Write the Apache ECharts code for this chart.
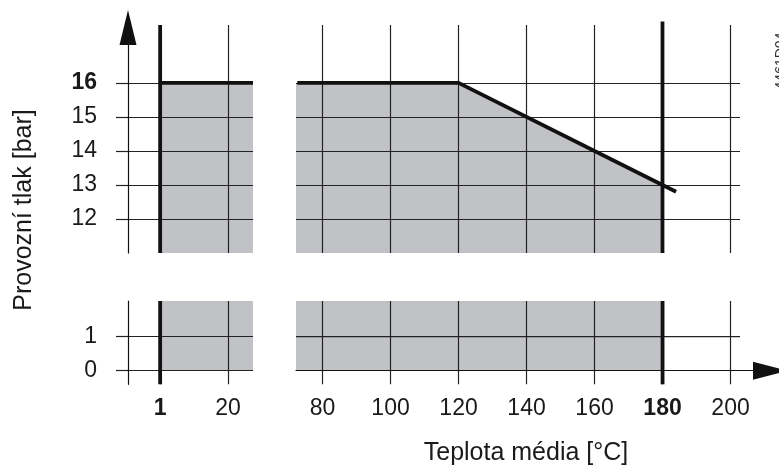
<!DOCTYPE html>
<html>
<head>
<meta charset="utf-8">
<script src="https://cdn.jsdelivr.net/npm/echarts@6/dist/echarts.min.js"></script>
<style>
  html, body { margin: 0; padding: 0; background: #fff; }
  #chart { width: 779px; height: 468px; }
</style>
</head>
<body>
<div id="chart"></div>
<script>
/* ================================================================
   Provozní tlak vs. teplota média (broken axes, 4 panels)
   ================================================================ */

// pressure axis [bar], upper and lower part of the broken axis
const pressTicksHigh = [12, 13, 14, 15, 16];
const pressTicksLow = [0, 1];
const pressBold = [16];
const pressHighRange = [11, 17.7];
const pressLowRange = [-0.4, 2.05];

// temperature axis [°C], left and right part
const tempTicksLeft = [1, 20];
const tempTicksRight = [80, 100, 120, 140, 160, 180, 200];
const tempBold = [1, 180];
const tempLeftRange = [-8, 27];
const tempRightRange = [72.2, 202.8];
const tempRightAxisMax = 206.6;

// operating limit (max. pressure over temperature)
const limitLeft = [[1, 16], [27, 16]];
const limitRightFill = [[72.2, 16], [120, 16], [180, 13]];
const limitRightLine = [[72.6, 16], [120, 16], [180, 13], [184, 12.8]];
const tMin = 1;
const tMax = 180;

const FONT = "'Liberation Sans', Arial, sans-serif";
const INK = "#1a1a1a";
const GRID_LINE = { color: "#222", width: 1.2 };
const FILL = "#c1c2c6";

const chart = echarts.init(document.getElementById("chart"));

const boldFmt = (list) => (v) => (list.includes(v) ? `{b|${v}}` : String(v));
const labelStyle = (list, margin) => ({
  show: true,
  margin,
  fontSize: 23,
  fontFamily: FONT,
  color: INK,
  formatter: boldFmt(list),
  rich: { b: { fontSize: 23, fontFamily: FONT, fontWeight: "bold", color: INK } },
});

const hidden = { show: false };

const xAxes = [
  // 0: upper left
  {
    type: "value", gridIndex: 0, min: tempLeftRange[0], max: tempLeftRange[1], z: 2,
    axisLine: hidden, axisLabel: { show: false, customValues: tempTicksLeft },
    axisTick: { show: false, customValues: tempTicksLeft },
    splitLine: { show: true, lineStyle: GRID_LINE },
  },
  // 1: upper right
  {
    type: "value", gridIndex: 1, min: tempRightRange[0], max: tempRightRange[1], z: 2,
    axisLine: hidden, axisLabel: { show: false, customValues: tempTicksRight },
    axisTick: { show: false, customValues: tempTicksRight },
    splitLine: { show: true, lineStyle: GRID_LINE },
  },
  // 2: lower left
  {
    type: "value", gridIndex: 2, min: tempLeftRange[0], max: tempLeftRange[1], z: 2,
    axisLine: { show: false, onZero: true },
    axisTick: { show: false, customValues: tempTicksLeft },
    axisLabel: Object.assign(labelStyle(tempBold, 13), { customValues: tempTicksLeft }),
    splitLine: { show: true, lineStyle: GRID_LINE },
  },
  // 3: lower right, with arrow
  {
    type: "value", gridIndex: 3, min: tempRightRange[0], max: tempRightAxisMax, z: 2,
    axisLine: {
      show: true, onZero: true,
      symbol: ["none", "triangle"], symbolSize: [18, 35], symbolOffset: [0, 17.5],
      lineStyle: { color: "#111", width: 1.2 },
    },
    axisTick: { show: false, customValues: tempTicksRight },
    axisLabel: Object.assign(labelStyle(tempBold, 13), { customValues: tempTicksRight }),
    splitLine: { show: true, lineStyle: GRID_LINE },
  },
];

const yAxes = [
  // 0: upper left, with arrow
  {
    type: "value", gridIndex: 0, min: pressHighRange[0], max: pressHighRange[1], z: 2,
    axisLine: {
      show: true, onZero: false,
      symbol: ["none", "triangle"], symbolSize: [17, 35], symbolOffset: [0, -2.5],
      lineStyle: { color: "#111", width: 1.2 },
    },
    axisTick: { show: true, length: 12, customValues: pressTicksHigh, lineStyle: GRID_LINE },
    axisLabel: Object.assign(labelStyle(pressBold, 31), { customValues: pressTicksHigh }),
    splitLine: { show: true, lineStyle: GRID_LINE },
  },
  // 1: upper right
  {
    type: "value", gridIndex: 1, min: pressHighRange[0], max: pressHighRange[1], z: 2,
    axisLine: { show: false, onZero: false },
    axisTick: { show: false, customValues: pressTicksHigh },
    axisLabel: { show: false, customValues: pressTicksHigh },
    splitLine: { show: true, lineStyle: GRID_LINE },
  },
  // 2: lower left
  {
    type: "value", gridIndex: 2, min: pressLowRange[0], max: pressLowRange[1], z: 2,
    axisLine: { show: true, onZero: false, lineStyle: { color: "#111", width: 1.2 } },
    axisTick: { show: true, length: 12, customValues: pressTicksLow, lineStyle: GRID_LINE },
    axisLabel: Object.assign(labelStyle(pressBold, 31), { customValues: pressTicksLow }),
    splitLine: { show: true, lineStyle: GRID_LINE },
  },
  // 3: lower right
  {
    type: "value", gridIndex: 3, min: pressLowRange[0], max: pressLowRange[1], z: 2,
    axisLine: { show: false, onZero: false },
    axisTick: hidden, axisLabel: hidden, splitLine: hidden,
  },
];

const area = (idx, data, origin) => ({
  type: "line", xAxisIndex: idx, yAxisIndex: idx, data, z: 1,
  symbol: "none", silent: true,
  lineStyle: { width: 0 },
  areaStyle: { color: FILL, opacity: 1, origin },
});
const thick = (idx, data) => ({
  type: "line", xAxisIndex: idx, yAxisIndex: idx, data, z: 3,
  symbol: "none", silent: true, clip: false,
  lineStyle: { color: "#111", width: 3.8, cap: "butt", join: "miter" },
});
const thin = (idx, data) => ({
  type: "line", xAxisIndex: idx, yAxisIndex: idx, data, z: 2,
  symbol: "none", silent: true,
  lineStyle: GRID_LINE,
});

const lowTop = pressLowRange[1];

chart.setOption({
  animation: false,
  grid: [
    { left: 128, top: 25, width: 125, height: 228 },
    { left: 296, top: 25, width: 444, height: 228 },
    { left: 128, top: 301, width: 125, height: 83.3 },
    { left: 296, top: 301, width: 457, height: 83.3 },
  ],
  xAxis: xAxes,
  yAxis: yAxes,
  series: [
    // upper left
    area(0, limitLeft, "start"),
    thick(0, limitLeft),
    thick(0, [[tMin, pressHighRange[0]], [tMin, pressHighRange[1]]]),
    // upper right
    area(1, limitRightFill, "start"),
    thick(1, limitRightLine),
    thick(1, [[tMax, pressHighRange[0]], [tMax, pressHighRange[1] + 0.1]]),
    // lower left
    area(2, [[tMin, lowTop], [tempLeftRange[1], lowTop]], 0),
    thick(2, [[tMin, pressLowRange[0]], [tMin, lowTop]]),
    // lower right
    area(3, [[tempRightRange[0], lowTop], [tMax, lowTop]], 0),
    thin(3, [[tempRightRange[0], 1], [tempRightRange[1], 1]]),
    thick(3, [[tMax, pressLowRange[0]], [tMax, lowTop]]),
  ],
  graphic: [
    {
      type: "text", x: 526, y: 453,
      style: { text: "Teplota média [°C]", fontSize: 25, fontFamily: FONT, fill: INK, align: "center", verticalAlign: "middle" },
    },
    {
      type: "text", x: 24, y: 210, rotation: Math.PI / 2,
      style: { text: "Provozní tlak [bar]", fontSize: 25, fontFamily: FONT, fill: INK, align: "center", verticalAlign: "middle" },
    },
    {
      type: "text", x: 781, y: 61, rotation: Math.PI / 2,
      style: { text: "4461D04", fontSize: 14, fontFamily: FONT, fill: "#333", align: "center", verticalAlign: "middle" },
    },
  ],
});

window.addEventListener("resize", () => chart.resize());
</script>
</body>
</html>
